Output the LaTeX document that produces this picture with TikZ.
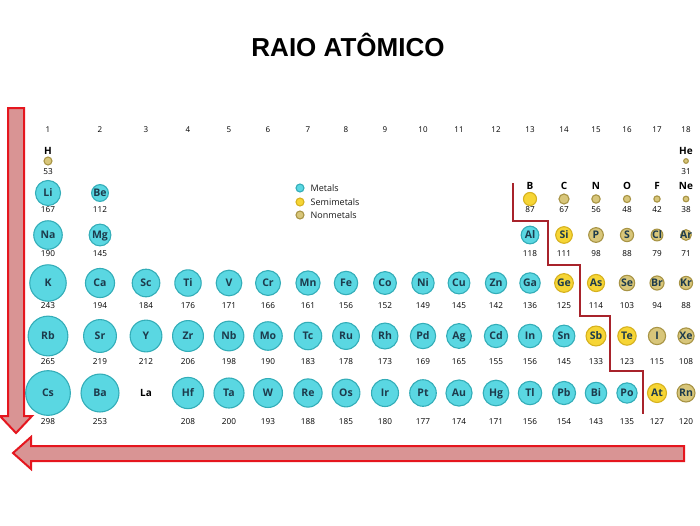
\documentclass[tikz,border=0pt]{standalone}
\usepackage{fontspec}
\setmainfont{Open Sans}
\newfontfamily\titfont{Liberation Sans}

\definecolor{metfill}{HTML}{5AD7E2}
\definecolor{metdraw}{HTML}{33ADB8}
\definecolor{semifill}{HTML}{F6D535}
\definecolor{semidraw}{HTML}{D6B11E}
\definecolor{nmetfill}{HTML}{D8C67A}
\definecolor{nmetdraw}{HTML}{A89445}
\definecolor{simcor}{HTML}{1D3B4C}
\definecolor{setafill}{HTML}{D99494}
\definecolor{setadraw}{HTML}{E5161E}
\definecolor{escadacor}{HTML}{A8232B}

\tikzset{
	atomo/.style={circle, inner sep=0pt, outer sep=0pt, line width=1.1pt, minimum size=#1},
	met/.style={fill=metfill, draw=metdraw},
	semi/.style={fill=semifill, draw=semidraw},
	nmet/.style={fill=nmetfill, draw=nmetdraw},
	simbolo/.style={font=\bfseries\fontsize{10.5}{12}\selectfont, text=simcor, inner sep=0pt, text height=7.6pt, text depth=0pt},
	rotulo/.style={font=\bfseries\fontsize{10}{12}\selectfont, text=black, inner sep=0pt, text height=7.2pt, text depth=0pt},
	raio/.style={font=\fontsize{8.2}{9}\selectfont, text=black, inner sep=0pt},
	grupo/.style={font=\fontsize{8}{9}\selectfont, text=black, inner sep=0pt},
	legenda/.style={font=\fontsize{9}{10}\selectfont, text=black!90, inner sep=0pt, anchor=west},
	seta/.style={fill=setafill, draw=setadraw, line width=2pt, line join=miter},
	escada/.style={draw=escadacor, line width=1.6pt},
}

\begin{document}
\begin{tikzpicture}[x=1pt, y=-1pt]

	\useasboundingbox (0,0) rectangle (700,525);

	\def\colx{{0,48,100,146,188,229,268,308,346,385,423,459,496,530,564,596,627,657,686}}
	% col, y circulo, y raio, simbolo, raio, tipo
	\def\elem#1#2#3#4#5#6{%
		\pgfmathsetmacro\xx{\colx[#1]}
		\node[atomo=0.15*#5, #6, label={[simbolo]center:#4}] (#4) at (\xx,#2) {};
		\node[raio] (#4-r) at (\xx,#3) {#5};
	}

	%TITULO
	\node[font=\titfont\bfseries\fontsize{26}{30}\selectfont, anchor=base, inner sep=0pt] (titulo) at (348,56) {RAIO ATÔMICO};

	%GRUPOS
	\foreach \cc in {1,...,18} {
		\pgfmathsetmacro\xx{\colx[\cc]}
		\node[grupo] (g\cc) at (\xx,130) {\cc};
	}

	%PERIODO 1 E 2 (SIMBOLO ACIMA)
	\foreach \cc/\el/\rr/\tp/\ys/\yc in {1/H/53/nmet/151/161, 18/He/31/nmet/151/161, 13/B/87/semi/186/199, 14/C/67/nmet/186/199, 15/N/56/nmet/186/199, 16/O/48/nmet/186/199, 17/F/42/nmet/186/199, 18/Ne/38/nmet/186/199} {
		\pgfmathsetmacro\xx{\colx[\cc]}
		\pgfmathsetmacro\yn{\yc+10.5}
		\node[rotulo] (\el-s) at (\xx,\ys) {\el};
		\node[atomo=0.15*\rr, \tp] (\el) at (\xx,\yc) {};
		\node[raio] (\el-r) at (\xx,\yn) {\rr};
	}

	%CIRCULOS
	\foreach \cc/\el/\rr/\tp in {1/Li/167/met, 2/Be/112/met}
		{\elem{\cc}{193}{210}{\el}{\rr}{\tp}}
	\foreach \cc/\el/\rr/\tp in {1/Na/190/met, 2/Mg/145/met, 13/Al/118/met, 14/Si/111/semi, 15/P/98/nmet, 16/S/88/nmet, 17/Cl/79/nmet, 18/Ar/71/nmet}
		{\elem{\cc}{235}{254}{\el}{\rr}{\tp}}
	\foreach \cc/\el/\rr/\tp in {1/K/243/met, 2/Ca/194/met, 3/Sc/184/met, 4/Ti/176/met, 5/V/171/met, 6/Cr/166/met, 7/Mn/161/met, 8/Fe/156/met, 9/Co/152/met, 10/Ni/149/met, 11/Cu/145/met, 12/Zn/142/met, 13/Ga/136/met, 14/Ge/125/semi, 15/As/114/semi, 16/Se/103/nmet, 17/Br/94/nmet, 18/Kr/88/nmet}
		{\elem{\cc}{283}{306}{\el}{\rr}{\tp}}
	\foreach \cc/\el/\rr/\tp in {1/Rb/265/met, 2/Sr/219/met, 3/Y/212/met, 4/Zr/206/met, 5/Nb/198/met, 6/Mo/190/met, 7/Tc/183/met, 8/Ru/178/met, 9/Rh/173/met, 10/Pd/169/met, 11/Ag/165/met, 12/Cd/155/met, 13/In/156/met, 14/Sn/145/met, 15/Sb/133/semi, 16/Te/123/semi, 17/I/115/nmet, 18/Xe/108/nmet}
		{\elem{\cc}{336}{362}{\el}{\rr}{\tp}}
	\foreach \cc/\el/\rr/\tp in {1/Cs/298/met, 2/Ba/253/met, 4/Hf/208/met, 5/Ta/200/met, 6/W/193/met, 7/Re/188/met, 8/Os/185/met, 9/Ir/180/met, 10/Pt/177/met, 11/Au/174/met, 12/Hg/171/met, 13/Tl/156/met, 14/Pb/154/met, 15/Bi/143/met, 16/Po/135/met, 17/At/127/semi, 18/Rn/120/nmet}
		{\elem{\cc}{393}{422}{\el}{\rr}{\tp}}
	\node[rotulo] (La) at (146,393) {La};

	%LEGENDA
	\foreach \tp/\tx/\yy in {met/Metals/188, semi/Semimetals/202, nmet/Nonmetals/215} {
		\node[atomo=8pt, \tp] (\tp-leg) at (300,\yy) {};
		\node[legenda] (\tp-tx) at (310.5,\yy) {\tx};
	}

	%ESCADA
	\draw[escada] (513,183) |- (548,221) |- (580,265) |- (610,316) |- (643,371) -- (643,414);

	%SETAS
	\draw[seta] (8,108) -- (24,108) -- (24,416) -- (32,416) -- (16,433) -- (0,416) -- (8,416) -- cycle;
	\draw[seta] (684,446) -- (684,461) -- (31,461) -- (31,469) -- (13,453) -- (31,437) -- (31,446) -- cycle;

\end{tikzpicture}
\end{document}
